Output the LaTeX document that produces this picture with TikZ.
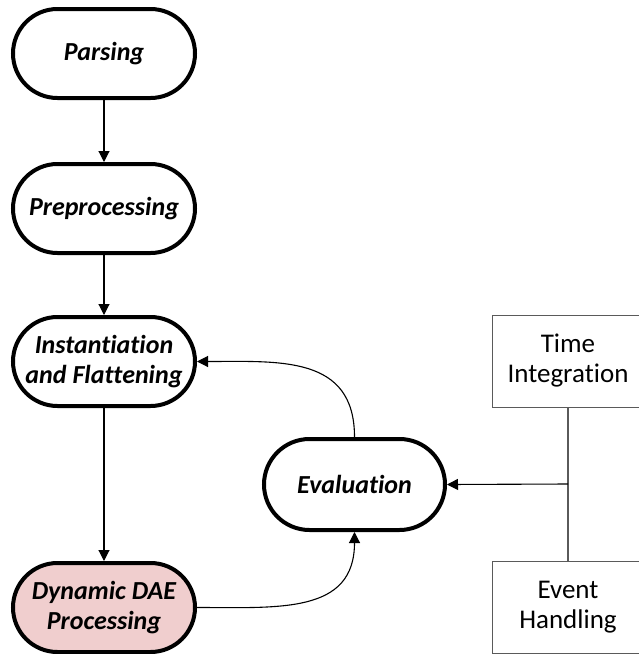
\documentclass[tikz,border=0pt]{standalone}
\usepackage{fontspec}
\setmainfont[Ligatures={NoCommon}]{Carlito}
\usetikzlibrary{arrows.meta}
\definecolor{daepink}{RGB}{240,206,206}
\definecolor{boxgrey}{RGB}{90,90,90}
\tikzset{
  x=1pt, y=-1pt,
  stage/.style={draw=black, line width=4pt, fill=white,
    minimum width=182pt, minimum height=89pt, rounded corners=44.5pt,
    inner sep=0pt, align=center,
    font=\fontsize{26}{30}\selectfont\bfseries\itshape},
  module/.style={draw=boxgrey, line width=1pt, fill=white,
    minimum width=152pt, minimum height=92pt, inner sep=0pt, align=center,
    font=\fontsize{27}{30}\selectfont},
  flow/.style={line width=1.1pt, -{Triangle[length=11pt,width=11pt]}},
  link/.style={draw=boxgrey, line width=1.1pt}
}
\begin{document}
\begin{tikzpicture}
\useasboundingbox (0,0) rectangle (639,654);
\clip (0,0) rectangle (639,654);

% pipeline stages
\node[stage] (parse) at (104,53.5) {Parsing};
\node[stage] (prep)  at (104,208.5) {Preprocessing};
\node[stage] (inst)  at (104,361.5) {Instantiation\\and Flattening};
\node[stage, fill=daepink] (dae) at (104,607.5) {Dynamic DAE\\Processing};
\node[stage, minimum width=181pt, minimum height=91pt, rounded corners=45.5pt] (eval) at (354.5,484.5) {Evaluation};

% solver modules
\node[module] (time)  at (568,361) {Time\\Integration};
\node[module] (event) at (568,607) {Event\\Handling};
\coordinate (join) at (568,484);

% connectors
\draw[flow] (parse) -- (prep);
\draw[flow] (prep) -- (inst);
\draw[flow] (inst) -- (dae);
\draw[flow] (dae.east) to[out=0, in=-90, looseness=1.2] (eval.south);
\draw[flow] (eval.north) to[out=90, in=0, looseness=1.2] (inst.east);
\draw[link] (time.south) -- (event.north);
\draw[flow] (join) -- (eval.east);
\end{tikzpicture}
\end{document}
